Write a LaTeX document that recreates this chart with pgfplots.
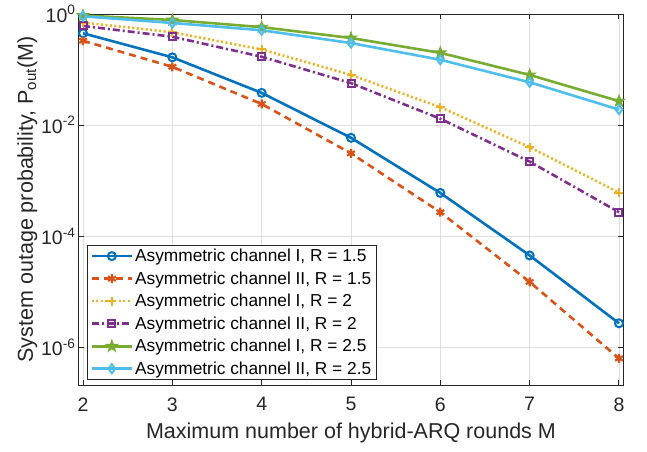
\documentclass[border=0pt]{standalone}
\usepackage{fontspec}
\setmainfont{Liberation Sans}
\usepackage{pgfplots}
\pgfplotsset{compat=1.18}
\usetikzlibrary{plotmarks}

% MATLAB default colour order
\definecolor{mblue}{rgb}{0,0.447,0.741}
\definecolor{morange}{rgb}{0.85,0.325,0.098}
\definecolor{myellow}{rgb}{0.929,0.694,0.125}
\definecolor{mpurple}{rgb}{0.494,0.184,0.556}
\definecolor{mgreen}{rgb}{0.466,0.674,0.188}
\definecolor{mcyan}{rgb}{0.301,0.745,0.933}

% filled pentagram
\pgfdeclareplotmark{pstar}{%
  \pgfpathmoveto{\pgfpointpolar{90}{\pgfplotmarksize}}%
  \pgfpathlineto{\pgfpointpolar{126}{0.4\pgfplotmarksize}}%
  \pgfpathlineto{\pgfpointpolar{162}{\pgfplotmarksize}}%
  \pgfpathlineto{\pgfpointpolar{198}{0.4\pgfplotmarksize}}%
  \pgfpathlineto{\pgfpointpolar{234}{\pgfplotmarksize}}%
  \pgfpathlineto{\pgfpointpolar{270}{0.4\pgfplotmarksize}}%
  \pgfpathlineto{\pgfpointpolar{306}{\pgfplotmarksize}}%
  \pgfpathlineto{\pgfpointpolar{342}{0.4\pgfplotmarksize}}%
  \pgfpathlineto{\pgfpointpolar{18}{\pgfplotmarksize}}%
  \pgfpathlineto{\pgfpointpolar{54}{0.4\pgfplotmarksize}}%
  \pgfpathclose\pgfusepathqfillstroke}

\begin{document}
\begin{tikzpicture}
\begin{axis}[
    scale only axis,
    width=544pt, height=371pt,
    ymode=log,
    xmin=1.955, xmax=8.045,
    ymin=2.09e-7, ymax=1,
    xtick={2,3,4,5,6,7,8},
    ytick={1e-6,1e-4,1e-2,1},
    yticklabels={10\textsuperscript{-6},10\textsuperscript{-4},10\textsuperscript{-2},10\textsuperscript{0}},
    yminorticks=false,
    grid=major,
    major grid style={color=black!13, line width=0.8pt},
    axis line style={color=black!85, line width=1pt},
    tick style={color=black!85, line width=1pt},
    major tick length=5pt,
    tick align=inside,
    /pgf/number format/assume math mode=true,
    ticklabel style={font=\fontsize{19.5}{21}\selectfont, text=black!85},
    xticklabel style={yshift=-9pt},
    label style={font=\fontsize{21.5}{23}\selectfont, text=black!85},
    xlabel={Maximum number of hybrid-ARQ rounds M},
    ylabel={System outage probability, P\textsubscript{out}(M)},
    xlabel style={at={(axis description cs:0.5,-0.093)}, anchor=north},
    ylabel style={at={(axis description cs:-0.07,0.5)}, anchor=south},
    legend style={at={(0.015,0.013)}, anchor=south west,
        font=\fontsize{17.3}{19}\selectfont, text=black,
        draw=black!85, line width=0.8pt, fill=white,
        row sep=4.5pt, inner xsep=3pt, inner ysep=2pt},
    legend cell align=left,
    legend image code/.code={
        \draw[mark repeat=2, mark phase=2, #1]
            plot coordinates {(0pt,0pt) (20pt,0pt) (40pt,0pt)};
    },
]
% channel I, R = 1.5
\addplot[mblue, line width=2.6pt, mark=o, mark size=4pt,
    mark options={solid, line width=2pt}] coordinates {
    (2,0.45) (3,0.166) (4,0.038) (5,5.9e-3) (6,6.0e-4) (7,4.5e-5) (8,2.7e-6)
};
\addlegendentry{Asymmetric channel I, R = 1.5}

% channel II, R = 1.5
\addplot[morange, line width=2.6pt, dash pattern=on 7pt off 5pt,
    mark=asterisk, mark size=4.5pt,
    mark options={solid, line width=2.2pt}] coordinates {
    (2,0.33) (3,0.112) (4,0.024) (5,3.1e-3) (6,2.7e-4) (7,1.5e-5) (8,6.3e-7)
};
\addlegendentry{Asymmetric channel II, R = 1.5}

% channel I, R = 2
\addplot[myellow, line width=2.6pt, dash pattern=on 2pt off 2.5pt,
    mark=+, mark size=4.5pt,
    mark options={solid, line width=2pt}] coordinates {
    (2,0.70) (3,0.47) (4,0.23) (5,0.08) (6,0.021) (7,4.0e-3) (8,6.1e-4)
};
\addlegendentry{Asymmetric channel I, R = 2}

% channel II, R = 2
\addplot[mpurple, line width=2.6pt, dash pattern=on 7pt off 3pt on 2pt off 3pt,
    mark=square, mark size=3.5pt,
    mark options={solid, line width=2pt}] coordinates {
    (2,0.61) (3,0.39) (4,0.17) (5,0.057) (6,0.013) (7,2.2e-3) (8,2.7e-4)
};
\addlegendentry{Asymmetric channel II, R = 2}

% channel I, R = 2.5
\addplot[mgreen, line width=2.6pt, mark=pstar, mark size=6pt,
    mark options={solid, line width=1pt, fill=mgreen}] coordinates {
    (2,0.94) (3,0.78) (4,0.58) (5,0.37) (6,0.2) (7,0.08) (8,0.027)
};
\addlegendentry{Asymmetric channel I, R = 2.5}

% channel II, R = 2.5
\addplot[mcyan, line width=2.6pt, mark=diamond, mark size=4.5pt,
    mark options={solid, line width=2pt}] coordinates {
    (2,0.91) (3,0.69) (4,0.51) (5,0.30) (6,0.15) (7,0.059) (8,0.019)
};
\addlegendentry{Asymmetric channel II, R = 2.5}

\end{axis}
\pgfresetboundingbox
\path[use as bounding box] (-79pt,-66pt) rectangle (568pt,385pt);
\end{tikzpicture}
\end{document}
